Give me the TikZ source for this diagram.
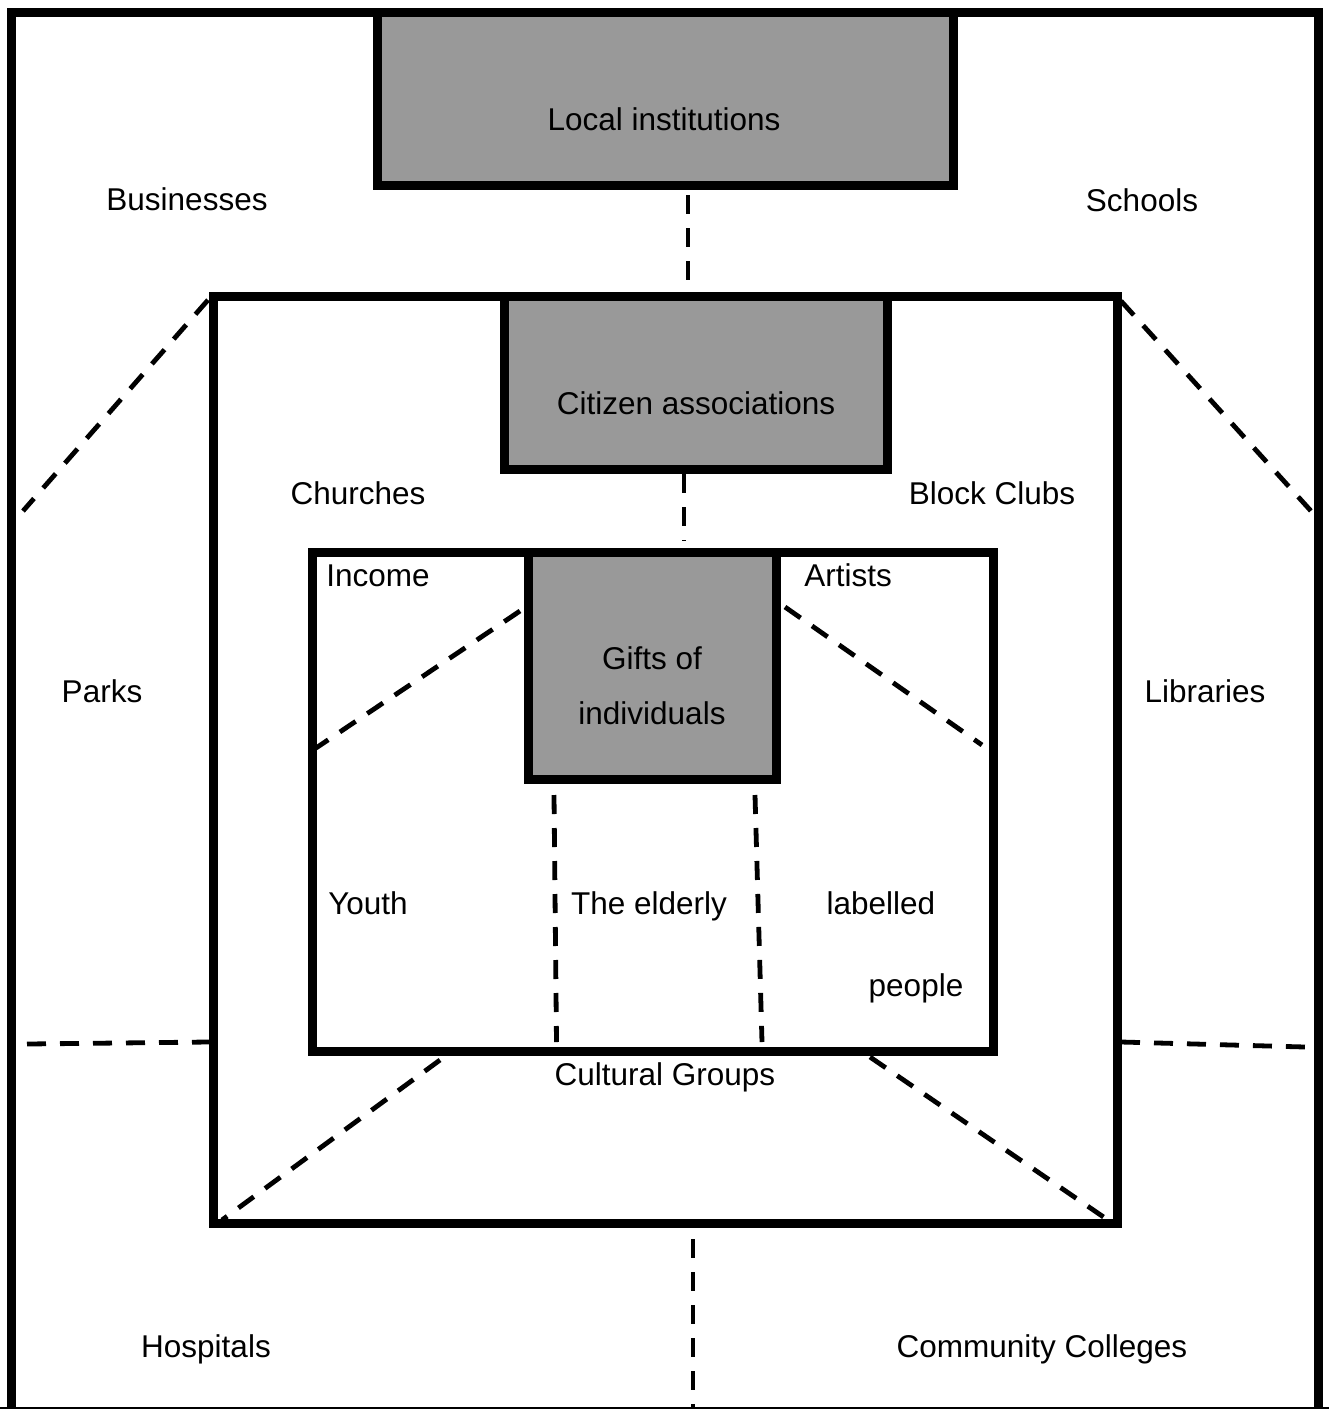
\documentclass[tikz,border=0pt]{standalone}
\usepackage{fontspec}
\setmainfont{Liberation Sans}
\begin{document}
\begin{tikzpicture}[x=1pt,y=-1pt,
  frame/.style={draw=black,line width=9pt,line join=miter},
  shaded/.style={frame,fill=boxgray},
  link/.style={draw=black,line width=4.8pt,dash pattern=on 19pt off 14pt},
  lbl/.style={anchor=base,inner sep=0pt,font=\fontsize{31.5}{38}\selectfont}]
\definecolor{boxgray}{RGB}{153,153,153}
\useasboundingbox (0,0) rectangle (1329,1409);
\fill[white] (0,0) rectangle (1329,1409);

% outer community frame (open at the bottom edge)
\draw[frame] (11.5,1409) -- (11.5,12.5) -- (1318.5,12.5) -- (1318.5,1409);
\draw[line width=1.5pt] (0,1408) -- (1329,1408);

% nested frames and shaded headers
\draw[frame] (213,296) rectangle (1117,1223);
\draw[frame] (312.5,552) rectangle (993.5,1051.5);
\draw[shaded] (377.5,12.5) rectangle (953.5,185.5);
\draw[shaded] (504.5,296) rectangle (887,469.5);
\draw[shaded] (528.5,552) rectangle (776.5,779);

% end points of the dashed dividers
\coordinate (lcA) at (688,195);   \coordinate (lcB) at (688,280);
\coordinate (caA) at (684,474);   \coordinate (caB) at (684,541);
\coordinate (bmA) at (693,1239);  \coordinate (bmB) at (693,1408);
\coordinate (ulA) at (208,300);   \coordinate (ulB) at (23,511);
\coordinate (urA) at (1121,301);  \coordinate (urB) at (1311,511);
\coordinate (mlA) at (27,1044);   \coordinate (mlB) at (209,1042);
\coordinate (mrA) at (1121,1042); \coordinate (mrB) at (1305,1047);
\coordinate (ilA) at (520,611);   \coordinate (ilB) at (316,748);
\coordinate (irA) at (785,607);   \coordinate (irB) at (982,745);
\coordinate (vlA) at (554,795);   \coordinate (vlB) at (556.5,1042);
\coordinate (vrA) at (755,795);   \coordinate (vrB) at (762,1042);
\coordinate (blA) at (440,1060);  \coordinate (blB) at (222,1220);
\coordinate (brA) at (870,1057);  \coordinate (brB) at (1105,1218);

\draw[link] (lcA) -- (lcB);
\draw[link] (caA) -- (caB);
\draw[link] (bmA) -- (bmB);
\draw[link] (ulA) -- (ulB);
\draw[link] (urA) -- (urB);
\draw[link] (mlA) -- (mlB);
\draw[link] (mrA) -- (mrB);
\draw[link] (ilA) -- (ilB);
\draw[link] (irA) -- (irB);
\draw[link] (vlA) -- (vlB);
\draw[link] (vrA) -- (vrB);
\draw[link] (blA) -- (blB);
\draw[link] (brA) -- (brB);

% labels
\node[lbl] (local)    at (664,130)  {Local institutions};
\node[lbl] (business) at (187,210)  {Businesses};
\node[lbl] (schools)  at (1142,211) {Schools};
\node[lbl] (citizen)  at (696,414)  {Citizen associations};
\node[lbl] (churches) at (358,504)  {Churches};
\node[lbl] (block)    at (992,504)  {Block Clubs};
\node[lbl] (income)   at (378,586)  {Income};
\node[lbl] (artists)  at (848,586)  {Artists};
\node[lbl] (gifts1)   at (652,669)  {Gifts of};
\node[lbl] (gifts2)   at (652,724)  {individuals};
\node[lbl] (parks)    at (102,702)  {Parks};
\node[lbl] (libs)     at (1205,702) {Libraries};
\node[lbl] (youth)    at (368,914)  {Youth};
\node[lbl] (elderly)  at (649,914)  {The elderly};
\node[lbl] (labelled) at (881,914)  {labelled};
\node[lbl] (people)   at (916,996)  {people};
\node[lbl] (cultural) at (665,1085) {Cultural Groups};
\node[lbl] (hosp)     at (206,1357) {Hospitals};
\node[lbl] (college)  at (1042,1357){Community Colleges};
\end{tikzpicture}
\end{document}
